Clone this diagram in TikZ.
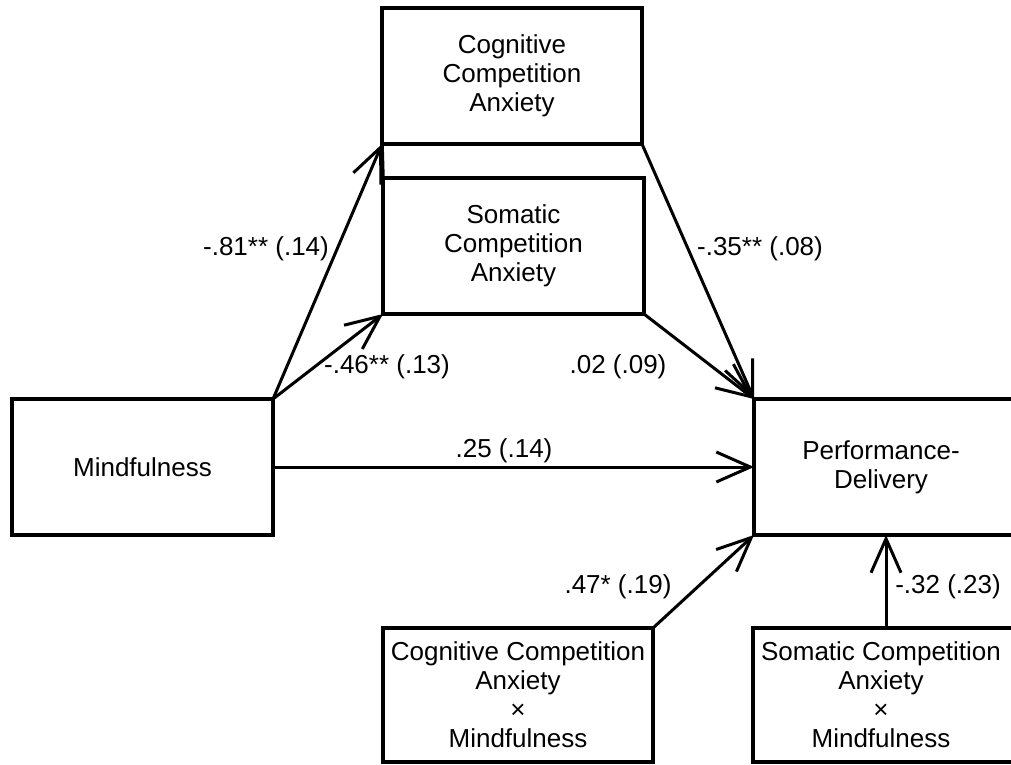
\documentclass[tikz,border=0pt]{standalone}
\usepackage{fontspec}
\setmainfont{Liberation Sans}
\usetikzlibrary{arrows.meta}
\begin{document}
\begin{tikzpicture}[x=1pt,y=-1pt,
  txt/.style={font=\fontsize{26}{29}\selectfont},
  box/.style={txt, rectangle, draw, line width=3.5pt, line join=miter, inner sep=0pt, outer sep=0pt, align=center},
  openbox/.style={txt, rectangle, inner sep=0pt, outer sep=0pt, align=center},
  boxline/.style={line width=3.5pt, line join=miter},
  arr/.style={line width=3pt, -{Straight Barb[length=34pt,width=30pt,line width=3pt]}},
  lab/.style={txt, inner sep=0pt}]
\useasboundingbox (0,0) rectangle (1011,764);
\clip (0,0) rectangle (1011,764);
\fill[white] (0,0) rectangle (1011,764);

% boxes
\node[box, minimum width=260pt, minimum height=136pt] (cog) at (512,76) {Cognitive\\Competition\\Anxiety};
\node[box, minimum width=261pt, minimum height=136pt] (som) at (513.5,246) {Somatic\\Competition\\Anxiety};
\node[box, minimum width=261pt, minimum height=136pt] (mind) at (142.5,467) {Mindfulness};
\node[openbox, minimum width=254pt, minimum height=136pt] (perf) at (881,467) {Performance-\\Delivery};
\draw[boxline] (perf.north west) rectangle ([xshift=30pt]perf.south east);
\node[box, minimum width=270pt, minimum height=134pt] (cxm) at (518,695) {Cognitive Competition\\Anxiety\\×\\Mindfulness};
\node[openbox, minimum width=256pt, minimum height=134pt] (sxm) at (881,695) {Somatic Competition\\Anxiety\\×\\Mindfulness};
\draw[boxline] (sxm.north west) rectangle ([xshift=30pt]sxm.south east);
\draw[boxline] (cog.south west) -- (som.north west);

% connectors
\draw[arr] (mind.north east) -- (cog.south west);
\draw[arr] (mind.north east) -- (som.south west);
\draw[arr] (cog.south east) -- (perf.north west);
\draw[arr] (som.south east) -- (perf.north west);
\draw[arr] (mind.east) -- (perf.west);
\draw[arr] (cxm.north east) -- (perf.south west);
\draw[arr] ([xshift=5pt]sxm.north) -- ([xshift=5pt]perf.south);

% labels
\node[lab] (l1) at (266,249) {-.81** (.14)};
\node[lab] (l2) at (387,367) {-.46** (.13)};
\node[lab] (l3) at (760,249) {-.35** (.08)};
\node[lab] (l4) at (618,367) {.02 (.09)};
\node[lab] (l5) at (504,451) {.25 (.14)};
\node[lab] (l6) at (618,587) {.47* (.19)};
\node[lab] (l7) at (948,587) {-.32 (.23)};
\end{tikzpicture}
\end{document}
